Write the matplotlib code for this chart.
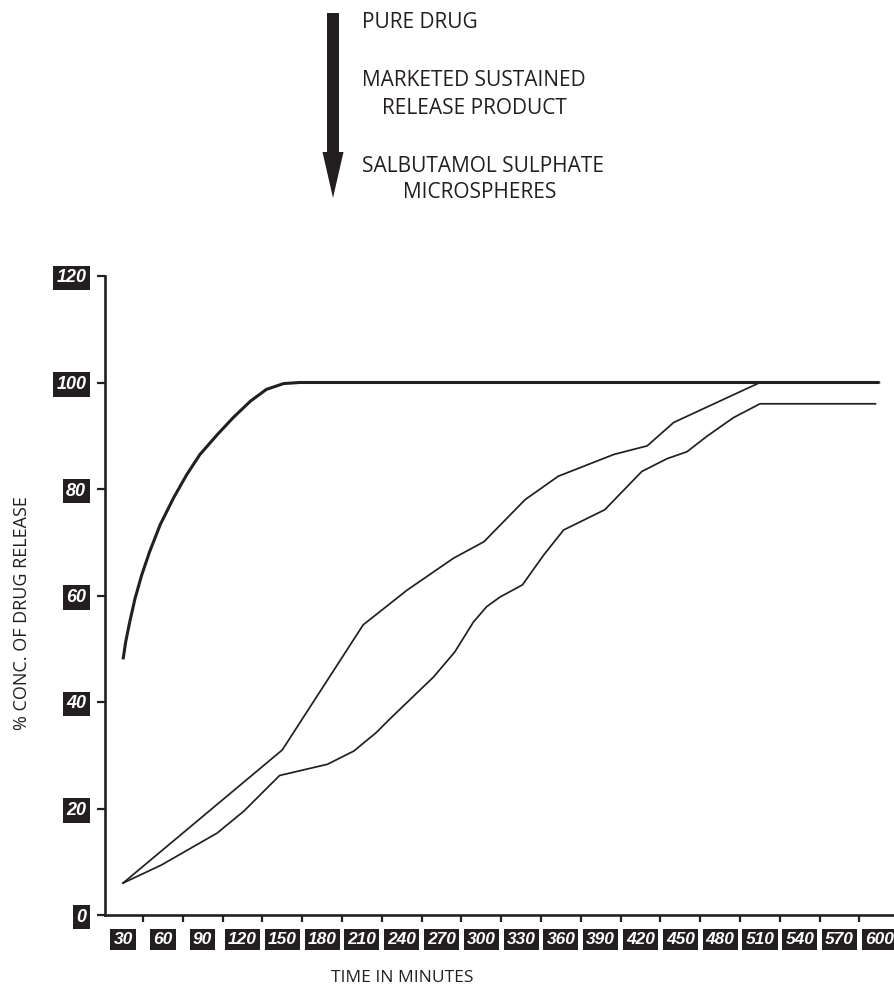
import matplotlib
matplotlib.use("Agg")
import matplotlib.pyplot as plt
from matplotlib.patches import FancyArrow

INK = "#231f20"

# time (min) / % released
pure_t = [30, 32, 35, 39, 44, 50, 58, 68, 78, 88, 101, 113, 126, 138, 151, 163, 600]
pure_v = [48, 51.3, 55, 59.4, 63.8, 68.2, 73.3, 78.3, 82.7, 86.5, 90.2, 93.4,
          96.5, 98.7, 99.8, 100, 100]

market_t = [30, 150, 211, 244, 279, 302, 333, 358, 400, 425, 445, 510, 600]
market_v = [6, 31, 54.5, 61, 67, 70.1, 78, 82.4, 86.5, 88.1, 92.5, 100, 100]

micro_t = [30, 59, 101, 121, 148, 184, 204, 221, 231, 264, 280, 294, 304, 314,
           331, 347, 362, 393, 421, 440, 455, 470, 490, 510, 597]
micro_v = [6, 9.4, 15.4, 19.5, 26.2, 28.3, 30.8, 34.3, 36.8, 44.7, 49.4, 55,
           57.9, 59.7, 62, 67.6, 72.3, 76.1, 83.3, 85.7, 87, 89.9, 93.4, 96, 96]

x_labels = list(range(30, 601, 30))
y_labels = [0, 20, 40, 60, 80, 100, 120]

legend_lines = [
    ("PURE DRUG", 362, 22),
    ("MARKETED SUSTAINED", 362, 80),
    ("RELEASE PRODUCT", 382, 108),
    ("SALBUTAMOL SULPHATE", 362, 167),
    ("MICROSPHERES", 403, 193),
]

W, H = 894, 986
fig = plt.figure(figsize=(W / 100, H / 100), dpi=100)
ax = fig.add_axes([105 / W, (H - 915) / H, (W - 105) / W, (915 - 276) / H])

ax.plot(pure_t, pure_v, color=INK, lw=2.2, solid_capstyle="butt")
ax.plot(market_t, market_v, color=INK, lw=1.25)
ax.plot(micro_t, micro_v, color=INK, lw=1.25)

ax.set_xlim(16.4, 611)
ax.set_ylim(0, 120)
for s in ["top", "right"]:
    ax.spines[s].set_visible(False)
for s in ["left", "bottom"]:
    ax.spines[s].set_linewidth(1.9)
    ax.spines[s].set_color(INK)

# labels sit between the ticks
ax.set_xticks(x_labels)
ax.set_xticklabels([str(v) for v in x_labels])
ax.set_xticks([v + 15 for v in x_labels[:-1]], minor=True)
ax.tick_params(axis="x", which="major", length=0, pad=12)
ax.tick_params(axis="x", which="minor", length=5, width=1.6, color=INK)

ax.set_yticks(y_labels)
ax.set_yticklabels([str(v) for v in y_labels])
ax.tick_params(axis="y", length=5.5, width=1.6, color=INK, pad=8)

for lab in ax.get_xticklabels():
    lab.set_fontfamily("Liberation Sans")
    lab.set_fontweight("bold")
    lab.set_fontstyle("italic")
    lab.set_fontsize(12.5)
    lab.set_color("white")
    lab.set_bbox(dict(facecolor=INK, edgecolor="none", pad=2.3))
for lab in ax.get_yticklabels():
    lab.set_fontfamily("Liberation Sans")
    lab.set_fontweight("bold")
    lab.set_fontstyle("italic")
    lab.set_fontsize(13)
    lab.set_color("white")
    lab.set_bbox(dict(facecolor=INK, edgecolor="none", pad=2.6))

# overlay in pixel units for the legend block and axis titles
ov = fig.add_axes([0, 0, 1, 1])
ov.set_xlim(0, W)
ov.set_ylim(H, 0)
ov.axis("off")

ov.add_patch(FancyArrow(333, 13, 0, 185, width=12, head_width=21, head_length=46,
                        length_includes_head=True, color=INK, lw=0))
txt = dict(fontfamily="Open Sans", fontsize=15, color=INK, va="center", ha="left")
for s, x, y in legend_lines:
    ov.text(x, y, s, **txt)

ov.text(402, 978, "TIME IN MINUTES", fontfamily="Open Sans", fontsize=12.5,
        color=INK, ha="center", va="center")
ov.text(22, 613, "% CONC. OF DRUG RELEASE", fontfamily="Open Sans", fontsize=13,
        color=INK, ha="center", va="center", rotation=90)

fig.savefig("out.png", dpi=100)
